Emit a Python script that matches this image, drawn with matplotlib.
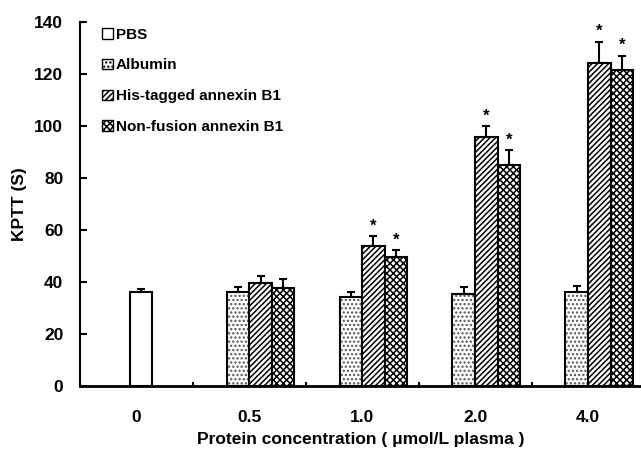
import matplotlib
matplotlib.use("Agg")
import matplotlib.pyplot as plt
from matplotlib.patches import Patch
import numpy as np

plt.rcParams['font.family'] = ['Liberation Sans', 'DejaVu Sans']
plt.rcParams['font.weight'] = 'bold'
plt.rcParams['hatch.linewidth'] = 1.1

# categories
conc_labels = ["0", "0.5", "1.0", "2.0", "4.0"]

# PBS only at 0
pbs_mean = [36.1]
pbs_err = [1.3]

# treatment groups at 0.5, 1.0, 2.0, 4.0
albumin_mean = [36.1, 34.2, 35.5, 36.0]
albumin_err = [2.0, 2.1, 2.4, 2.6]
his_mean = [39.5, 53.7, 95.9, 124.2]
his_err = [3.0, 3.9, 4.1, 8.2]
nonfus_mean = [37.7, 49.6, 85.0, 121.5]
nonfus_err = [3.6, 2.7, 5.7, 5.5]
significant_his = [False, True, True, True]
significant_nonfus = [False, True, True, True]

fig = plt.figure(figsize=(6.41, 4.5), dpi=100)
ax = fig.add_axes([0.1248, 0.1422, 0.8752, 0.8089])

w = 0.2
x = np.arange(1, 5)
ekw = dict(ecolor='black', elinewidth=1.5, capsize=3, capthick=1.5)

ax.bar([0.04], pbs_mean, w, color='white', edgecolor='black', linewidth=1.5,
       yerr=[[0], pbs_err], error_kw=ekw, label='PBS')
# albumin: light dotted fill, dots drawn grey, outline black
ax.bar(x - 0.1, albumin_mean, w, color='white', edgecolor='#555555', linewidth=0,
       hatch='....')
ax.bar(x - 0.1, albumin_mean, w, color='none', edgecolor='black', linewidth=1.5,
       yerr=[[0] * 4, albumin_err], error_kw=ekw)
ax.bar(x + 0.1, his_mean, w, color='white', edgecolor='black', linewidth=1.5,
       hatch='//////', yerr=[[0] * 4, his_err], error_kw=ekw, label='His-tagged annexin B1')
ax.bar(x + 0.3, nonfus_mean, w, color='white', edgecolor='black', linewidth=1.5,
       hatch='xxxxx', yerr=[[0] * 4, nonfus_err], error_kw=ekw, label='Non-fusion annexin B1')

# significance stars
for xi, m, e, s in zip(x + 0.1, his_mean, his_err, significant_his):
    if s:
        ax.text(xi, m + e + 1.0, '*', ha='center', va='bottom', fontsize=12, fontweight='bold')
for xi, m, e, s in zip(x + 0.3, nonfus_mean, nonfus_err, significant_nonfus):
    if s:
        ax.text(xi, m + e + 1.0, '*', ha='center', va='bottom', fontsize=12, fontweight='bold')

ax.set_xlim(-0.5, 4.47)
ax.set_ylim(0, 140)
ax.set_yticks(np.arange(0, 141, 20))
ax.set_xticks(np.arange(5))
ax.set_xticklabels(conc_labels)
ax.set_xticks(np.arange(0.5, 4.5, 1), minor=True)
ax.tick_params(axis='x', which='major', length=0, pad=17, labelsize=12.5)
ax.tick_params(axis='x', which='minor', direction='in', length=3, width=1.5)
ax.tick_params(axis='y', direction='in', length=5, width=1.5, labelsize=12.5, pad=12)
for lab in ax.get_xticklabels() + ax.get_yticklabels():
    lab.set_fontweight('bold')

ax.spines['top'].set_visible(False)
ax.spines['right'].set_visible(False)
ax.spines['left'].set_linewidth(1.5)
ax.spines['bottom'].set_linewidth(2)

ax.set_ylabel('KPTT (S)', fontsize=12.5, fontweight='bold', labelpad=5)
ax.set_xlabel('Protein concentration ( μmol/L plasma )', fontsize=12.5, fontweight='bold', labelpad=5)

# legend handles
handles = [
    Patch(facecolor='white', edgecolor='black', linewidth=1.0, label='PBS'),
    Patch(facecolor='white', edgecolor='black', linewidth=1.0, hatch='....', label='Albumin'),
    Patch(facecolor='white', edgecolor='black', linewidth=1.0, hatch='//////', label='His-tagged annexin B1'),
    Patch(facecolor='white', edgecolor='black', linewidth=1.0, hatch='xxxxx', label='Non-fusion annexin B1'),
]
leg = ax.legend(handles=handles, loc='upper left', bbox_to_anchor=(0.02, 1.014), frameon=False,
                fontsize=11, handlelength=0.7, handleheight=0.7, handletextpad=0.2,
                labelspacing=1.1, borderaxespad=0.3)
for t in leg.get_texts():
    t.set_fontweight('bold')

fig.savefig('out.png', dpi=100)
